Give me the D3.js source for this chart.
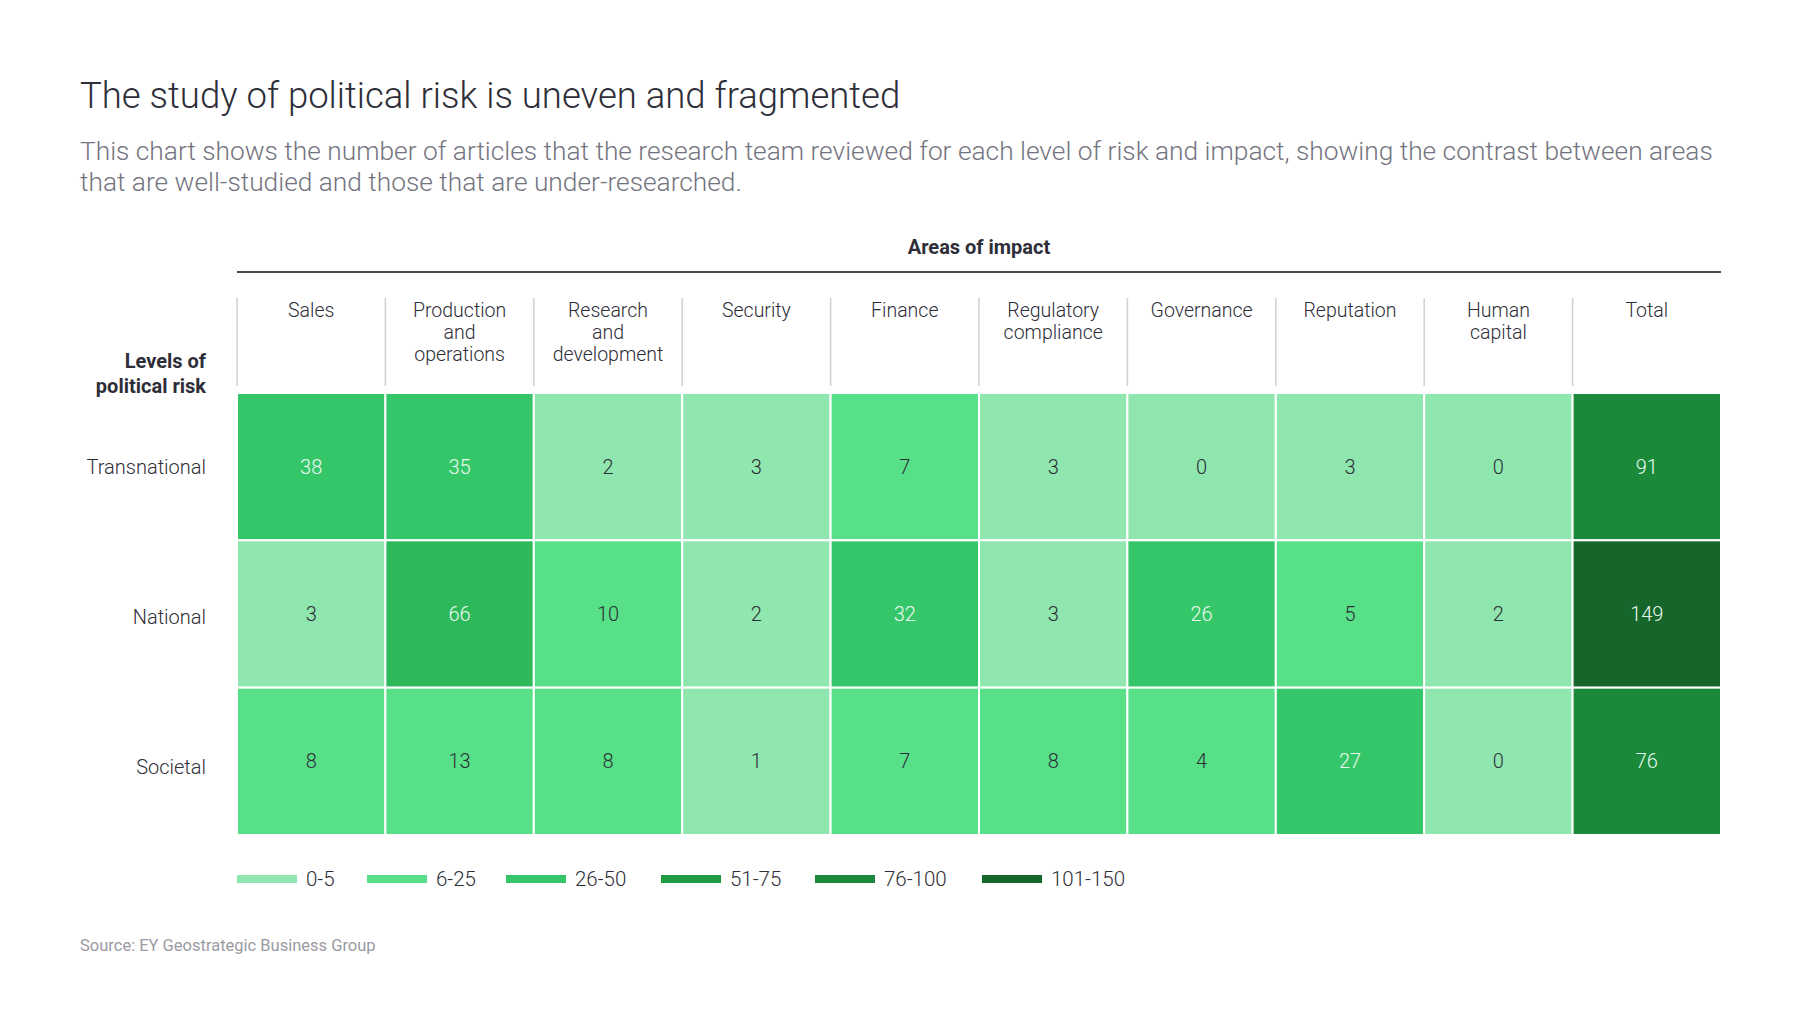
<!DOCTYPE html>
<html>
<head>
<meta charset="utf-8">
<script src="https://cdn.jsdelivr.net/npm/d3@7"></script>
<style>
  body { margin: 0; background: #fff; }
  svg { display: block; font-family: Roboto, "Liberation Sans", sans-serif; }
</style>
</head>
<body>
<svg id="chart"></svg>
<script>
// data
var areas = ["Sales", "Production and operations", "Research and development", "Security", "Finance",
             "Regulatory compliance", "Governance", "Reputation", "Human capital", "Total"];
var areaLines = [["Sales"], ["Production", "and", "operations"], ["Research", "and", "development"], ["Security"],
                 ["Finance"], ["Regulatory", "compliance"], ["Governance"], ["Reputation"], ["Human", "capital"], ["Total"]];
var levels = ["Transnational", "National", "Societal"];
var transnational = [38, 35, 2, 3, 7, 3, 0, 3, 0, 91];
var national      = [3, 66, 10, 2, 32, 3, 26, 5, 2, 149];
var societal      = [8, 13, 8, 1, 7, 8, 4, 27, 0, 76];
var binLabels = ["0-5", "6-25", "26-50", "51-75", "76-100", "101-150"];
// the picture shades 4 and 5 like the 6-25 band, so the first break sits at 4
var binEdges = [4, 26, 51, 76, 101];
var binColors = ["#8fe6ae", "#57e088", "#35c669", "#2eb85c", "#1a8a3a", "#16652b"];
var legendColors = ["#8fe6ae", "#57e088", "#35c669", "#1f9c42", "#1a8a3a", "#16652b"];

var width = 1800, height = 1031;
var svg = d3.select("#chart").attr("width", width).attr("height", height);

var rows = [transnational, national, societal];
var cells = [];
rows.forEach(function(r, i){
    r.forEach(function(v, j){ cells.push({level: levels[i], area: areas[j], value: v}); });
});

var x = d3.scaleBand().domain(areas).range([237, 1721]);
var y = d3.scaleBand().domain(levels).range([393, 835]);
var color = d3.scaleThreshold().domain(binEdges).range(binColors);

// title + subtitle
svg.append("text").attr("x", 80).attr("y", 108)
    .attr("font-size", 36.5).attr("font-weight", 300).attr("fill", "#2e2e38")
    .text("The study of political risk is uneven and fragmented");
var sub = ["This chart shows the number of articles that the research team reviewed for each level of risk and impact, showing the contrast between areas",
           "that are well-studied and those that are under-researched."];
svg.selectAll(".sub").data(sub).enter().append("text")
    .attr("x", 80).attr("y", (d, i) => 160 + i * 31)
    .attr("font-size", 26.3).attr("font-weight", 300).attr("fill", "#747480")
    .text(d => d);

// column header
svg.append("text").attr("x", (x.range()[0] + x.range()[1]) / 2).attr("y", 254)
    .attr("text-anchor", "middle").attr("font-size", 20).attr("font-weight", 700).attr("fill", "#2e2e38")
    .text("Areas of impact");
svg.append("line").attr("x1", 237).attr("x2", 1721).attr("y1", 272).attr("y2", 272)
    .attr("stroke", "#4a4a52").attr("stroke-width", 2);

svg.selectAll(".sep").data(areas).enter().append("line")
    .attr("x1", d => x(d)).attr("x2", d => x(d))
    .attr("y1", 298).attr("y2", 386)
    .attr("stroke", "#d0d0d4").attr("stroke-width", 1.5);

var hdr = svg.selectAll(".hdr").data(areas).enter().append("text")
    .attr("text-anchor", "middle").attr("font-size", 19.5).attr("font-weight", 300).attr("fill", "#2e2e38");
hdr.each(function(d, i){
    d3.select(this).selectAll("tspan").data(areaLines[i]).enter().append("tspan")
        .attr("x", x(d) + x.bandwidth() / 2)
        .attr("y", (t, k) => 317 + k * 22)
        .text(t => t);
});

// row header
svg.selectAll(".lvlhead").data(["Levels of", "political risk"]).enter().append("text")
    .attr("x", 206).attr("y", (d, i) => 368 + i * 25)
    .attr("text-anchor", "end").attr("font-size", 20).attr("font-weight", 700).attr("fill", "#2e2e38")
    .text(d => d);
svg.selectAll(".lvl").data(levels).enter().append("text")
    .attr("x", 206).attr("y", (d, i) => y(d) + y.bandwidth() / 2 + 7 + i * 3)
    .attr("text-anchor", "end").attr("font-size", 20).attr("font-weight", 300).attr("fill", "#2e2e38")
    .text(d => d);

// cells
svg.selectAll(".cell").data(cells).enter().append("rect")
    .attr("x", d => x(d.area)).attr("y", d => y(d.level))
    .attr("width", x.bandwidth()).attr("height", y.bandwidth())
    .attr("fill", d => color(d.value))
    .attr("stroke", "#fff").attr("stroke-width", 2);
svg.selectAll(".val").data(cells).enter().append("text")
    .attr("x", d => x(d.area) + x.bandwidth() / 2)
    .attr("y", d => y(d.level) + y.bandwidth() / 2 + 7)
    .attr("text-anchor", "middle").attr("font-size", 20).attr("font-weight", 300)
    .attr("fill", d => d.value > 25 ? "#eafaee" : "#2e2e38")
    .text(d => d.value);

// legend
var legX = [237, 367, 506, 661, 815, 982];
var leg = svg.selectAll(".leg").data(binLabels).enter().append("g")
    .attr("transform", (d, i) => "translate(" + legX[i] + ",875)");
leg.append("rect").attr("width", 60).attr("height", 8).attr("fill", (d, i) => legendColors[i]);
leg.append("text").attr("x", 69).attr("y", 11).attr("font-size", 20.5).attr("font-weight", 300)
    .attr("fill", "#2e2e38").text(d => d);

svg.append("text").attr("x", 80).attr("y", 951)
    .attr("font-size", 16.5).attr("fill", "#9a9aa2")
    .text("Source: EY Geostrategic Business Group");
</script>
</body>
</html>
